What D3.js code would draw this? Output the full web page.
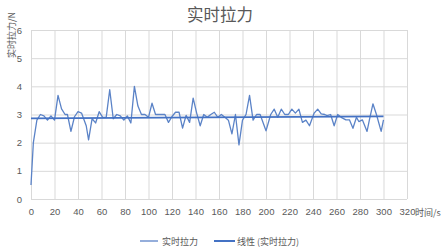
<!DOCTYPE html>
<html>
<head>
<meta charset="utf-8">
<script src="https://cdn.jsdelivr.net/npm/d3@7"></script>
<style>
  body { margin: 0; background: #fff; }
  text { font-family: "Noto Sans CJK SC", "Liberation Sans", sans-serif; fill: #595959; }
</style>
</head>
<body>
<svg id="chart" width="445" height="250"></svg>
<script>
var margin = {top: 30, right: 38, bottom: 51, left: 31};

var times = [0, 2, 5, 8, 11, 14, 17, 20, 23, 26, 29, 31, 34, 37, 40, 43, 47, 49, 52, 55,
  58, 61, 64, 67, 70, 73, 76, 79, 82, 85, 88, 91, 94, 97, 100, 103, 106, 111, 114, 117,
  120, 123, 126, 129, 132, 135, 138, 141, 144, 147, 150, 153, 156, 159, 162, 165, 168, 171, 174, 177,
  180, 183, 186, 189, 192, 195, 200, 204, 207, 210, 213, 216, 219, 222, 225, 228, 231, 234, 237, 241,
  244, 247, 250, 252, 255, 258, 261, 264, 268, 271, 274, 277, 279, 282, 286, 288, 291, 294, 298, 300];

var force = [0.5, 2.0, 2.8, 3.0, 2.95, 2.8, 2.95, 2.8, 3.68, 3.2, 3.0, 3.0, 2.4, 2.92, 3.1, 3.05, 2.6, 2.1, 2.85, 2.7,
  3.1, 2.9, 2.9, 3.88, 2.85, 3.0, 2.95, 2.8, 2.95, 2.7, 4.0, 3.3, 3.0, 3.0, 2.9, 3.4, 3.0, 3.0, 3.0, 2.72,
  2.93, 3.08, 3.08, 2.52, 2.97, 2.72, 3.58, 3.05, 2.6, 3.0, 2.9, 3.0, 3.08, 2.9, 3.0, 2.9, 2.8, 2.31, 3.0, 1.92,
  2.8, 3.0, 3.68, 2.8, 3.0, 3.0, 2.42, 3.0, 3.19, 2.9, 3.19, 3.0, 3.0, 3.19, 3.05, 3.19, 2.72, 2.8, 2.6, 3.05,
  3.19, 3.02, 3.0, 2.96, 3.0, 2.6, 3.0, 2.9, 2.81, 2.81, 2.51, 2.9, 2.75, 2.81, 2.4, 2.81, 3.38, 3.0, 2.4, 2.81];

var xTicks = d3.range(0, 321, 20);
var yTicks = [0, 1, 2, 3, 4, 5, 6];

var svg = d3.select("#chart");
var width = +svg.attr("width") - margin.left - margin.right;
var height = +svg.attr("height") - margin.top - margin.bottom;
var g = svg.append("g").attr("transform", `translate(${margin.left}, ${margin.top})`);

var xScale = d3.scaleLinear().domain([0, 320]).range([0, width]);
var yScale = d3.scaleLinear().domain([0, 6]).range([height, 0]);

// grid
g.append("g").selectAll("line").data(yTicks).join("line")
  .attr("x1", 0).attr("x2", width)
  .attr("y1", d => yScale(d) + 0.5).attr("y2", d => yScale(d) + 0.5)
  .attr("stroke", "#d9d9d9");
g.append("g").selectAll("line").data(xTicks).join("line")
  .attr("y1", 0).attr("y2", height)
  .attr("x1", d => xScale(d) + 0.5).attr("x2", d => xScale(d) + 0.5)
  .attr("stroke", "#d9d9d9");

// axes labels
var xAxis = g.append("g")
  .attr("transform", `translate(0, ${height})`)
  .call(d3.axisBottom(xScale).tickValues(xTicks).tickFormat(d3.format("d")).tickSize(0).tickPadding(9));
var yAxis = g.append("g")
  .call(d3.axisLeft(yScale).tickValues(yTicks).tickFormat(d3.format("d")).tickSize(0).tickPadding(9));
[xAxis, yAxis].forEach(function(a){
  a.select(".domain").remove();
  a.selectAll("text").attr("font-size", 9.5).attr("fill", "#595959")
    .style("font-family", "'Liberation Sans', sans-serif");
});

// trend line (least squares)
var n = times.length;
var mx = d3.mean(times), my = d3.mean(force);
var slope = d3.sum(times, (t, i) => (t - mx) * (force[i] - my)) / d3.sum(times, t => (t - mx) * (t - mx));
var icpt = my - slope * mx;
var tEnds = [times[0], times[n - 1]];

var pts = times.map((t, i) => [t, force[i]]);
var line = d3.line().x(d => xScale(d[0])).y(d => yScale(d[1]));

g.append("path")
  .datum(pts)
  .attr("fill", "none")
  .attr("stroke", "#5b83c7")
  .attr("stroke-width", 1.3)
  .attr("stroke-linejoin", "round")
  .attr("d", line);

g.append("path")
  .datum(tEnds.map(t => [t, icpt + slope * t]))
  .attr("fill", "none")
  .attr("stroke", "#4472c4")
  .attr("stroke-width", 1.8)
  .attr("d", line);

// titles
svg.append("text").attr("x", 220).attr("y", 21).attr("text-anchor", "middle")
  .attr("font-size", 16.5).text("实时拉力");
svg.append("text").attr("transform", "translate(15, 12) rotate(-90)")
  .attr("text-anchor", "end").attr("font-size", 9).text("实时拉力/N");
svg.append("text").attr("x", 415).attr("y", 216).attr("font-size", 9).text("时间/s");

// legend
var legend = svg.append("g").attr("transform", "translate(0, 241)");
legend.append("line").attr("x1", 140).attr("x2", 158).attr("y1", 0).attr("y2", 0)
  .attr("stroke", "#5b83c7").attr("stroke-width", 1.3);
legend.append("text").attr("x", 162).attr("y", 3.5).attr("font-size", 9).text("实时拉力");
legend.append("line").attr("x1", 214).attr("x2", 235).attr("y1", 0).attr("y2", 0)
  .attr("stroke", "#4472c4").attr("stroke-width", 2);
legend.append("text").attr("x", 237).attr("y", 3.5).attr("font-size", 9).text("线性 (实时拉力)");
</script>
</body>
</html>
